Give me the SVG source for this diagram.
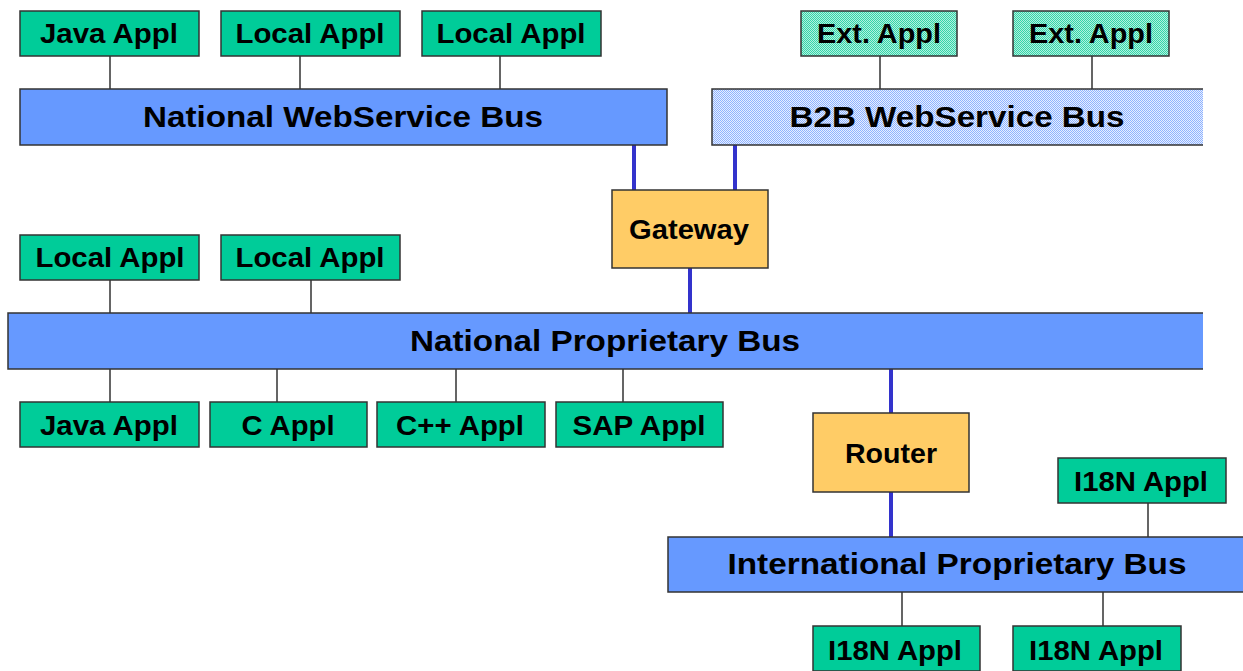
<svg xmlns="http://www.w3.org/2000/svg" width="1243" height="671" viewBox="0 0 1243 671">
<style>
.app{fill:#00CC99;stroke:#333;stroke-width:1.5}
.ext{fill:url(#extpat);stroke:#333;stroke-width:1.5}
.dev{fill:#FFCC66;stroke:#333;stroke-width:1.5}
.bus{fill:#6699FF}
.b2b{fill:url(#b2bpat)}
.edge{stroke:#333;stroke-width:1.5;fill:none}
.t{font-family:"Liberation Sans",Arial,sans-serif;font-weight:bold;font-size:28px;fill:#000;text-anchor:middle}
.tb{font-family:"Liberation Sans",Arial,sans-serif;font-weight:bold;font-size:29px;fill:#000;text-anchor:middle}
.c{stroke:#333;stroke-width:1.5;fill:none}
.blue{stroke:#3333CC;stroke-width:4;fill:none}
</style>
<defs>
<pattern id="b2bpat" width="2" height="2" patternUnits="userSpaceOnUse">
<rect width="2" height="2" fill="#E6EEFF"/>
<rect width="1" height="1" fill="#8FB3FF"/>
<rect x="1" y="1" width="1" height="1" fill="#8FB3FF"/>
</pattern>
<pattern id="extpat" width="2" height="2" patternUnits="userSpaceOnUse">
<rect width="2" height="2" fill="#B3F0DE"/>
<rect width="1" height="1" fill="#33D6AA"/>
<rect x="1" y="1" width="1" height="1" fill="#33D6AA"/>
</pattern>
</defs>
<rect width="1243" height="671" fill="#fff"/>

<g id="connectors">
<path class="c" d="M110 56V89M300 56V89M500 56V89M880 56V89M1092 56V89M110 280V313M311 280V313M110 369V402M277 369V402M456 369V402M623 369V402M1148 503V537M902 592V626M1103 592V626"/>
<path class="blue" d="M634 145V190M735 145V190M690 268V313M891 369V413M891 492V537"/>
</g>

<g id="bus-national-ws">
<rect class="bus" x="20" y="89" width="647" height="56"/>
<rect class="edge" x="20" y="89" width="647" height="56"/>
<text class="tb" x="343" y="127" textLength="400" lengthAdjust="spacingAndGlyphs">National WebService Bus</text>
</g>
<g id="bus-b2b">
<rect class="b2b" x="712" y="89" width="491" height="56"/>
<path class="edge" d="M1203 89H712V145H1203"/>
<text class="tb" x="957" y="127" textLength="335" lengthAdjust="spacingAndGlyphs">B2B WebService Bus</text>
</g>
<g id="bus-national-prop">
<rect class="bus" x="8" y="313" width="1195" height="56"/>
<path class="edge" d="M1203 313H8V369H1203"/>
<text class="tb" x="605" y="351" textLength="390" lengthAdjust="spacingAndGlyphs">National Proprietary Bus</text>
</g>
<g id="bus-international">
<rect class="bus" x="668" y="537" width="576" height="55"/>
<path class="edge" d="M1244 537H668V592H1244"/>
<text class="tb" x="957" y="574" textLength="459" lengthAdjust="spacingAndGlyphs">International Proprietary Bus</text>
</g>

<g id="java-top"><rect class="app" x="20" y="11" width="179" height="45"/><text class="t" x="109" y="43" textLength="138" lengthAdjust="spacingAndGlyphs">Java Appl</text></g>
<g id="local-top-1"><rect class="app" x="221" y="11" width="179" height="45"/><text class="t" x="310" y="43" textLength="149" lengthAdjust="spacingAndGlyphs">Local Appl</text></g>
<g id="local-top-2"><rect class="app" x="422" y="11" width="179" height="45"/><text class="t" x="511" y="43" textLength="149" lengthAdjust="spacingAndGlyphs">Local Appl</text></g>
<g id="ext-1"><rect class="ext" x="801" y="11" width="156" height="45"/><text class="t" x="879" y="43" textLength="124" lengthAdjust="spacingAndGlyphs">Ext. Appl</text></g>
<g id="ext-2"><rect class="ext" x="1013" y="11" width="156" height="45"/><text class="t" x="1091" y="43" textLength="124" lengthAdjust="spacingAndGlyphs">Ext. Appl</text></g>

<g id="gateway"><rect class="dev" x="612" y="190" width="156" height="78"/><text class="t" x="689" y="239" textLength="120" lengthAdjust="spacingAndGlyphs">Gateway</text></g>

<g id="local-mid-1"><rect class="app" x="20" y="235" width="179" height="45"/><text class="t" x="110" y="267" textLength="149" lengthAdjust="spacingAndGlyphs">Local Appl</text></g>
<g id="local-mid-2"><rect class="app" x="221" y="235" width="179" height="45"/><text class="t" x="310" y="267" textLength="149" lengthAdjust="spacingAndGlyphs">Local Appl</text></g>

<g id="java-bottom"><rect class="app" x="20" y="402" width="179" height="45"/><text class="t" x="109" y="435" textLength="138" lengthAdjust="spacingAndGlyphs">Java Appl</text></g>
<g id="c-appl"><rect class="app" x="210" y="402" width="157" height="45"/><text class="t" x="288" y="435" textLength="93" lengthAdjust="spacingAndGlyphs">C Appl</text></g>
<g id="cpp-appl"><rect class="app" x="377" y="402" width="168" height="45"/><text class="t" x="460" y="435" textLength="128" lengthAdjust="spacingAndGlyphs">C++ Appl</text></g>
<g id="sap-appl"><rect class="app" x="556" y="402" width="167" height="45"/><text class="t" x="639" y="435" textLength="133" lengthAdjust="spacingAndGlyphs">SAP Appl</text></g>

<g id="router"><rect class="dev" x="813" y="413" width="156" height="79"/><text class="t" x="891" y="463" textLength="92" lengthAdjust="spacingAndGlyphs">Router</text></g>

<g id="i18n-top"><rect class="app" x="1058" y="458" width="168" height="45"/><text class="t" x="1141" y="491" textLength="134" lengthAdjust="spacingAndGlyphs">I18N Appl</text></g>
<g id="i18n-bottom-1"><rect class="app" x="813" y="626" width="167" height="45"/><text class="t" x="895" y="660" textLength="134" lengthAdjust="spacingAndGlyphs">I18N Appl</text></g>
<g id="i18n-bottom-2"><rect class="app" x="1013" y="626" width="168" height="45"/><text class="t" x="1096" y="660" textLength="134" lengthAdjust="spacingAndGlyphs">I18N Appl</text></g>
</svg>
